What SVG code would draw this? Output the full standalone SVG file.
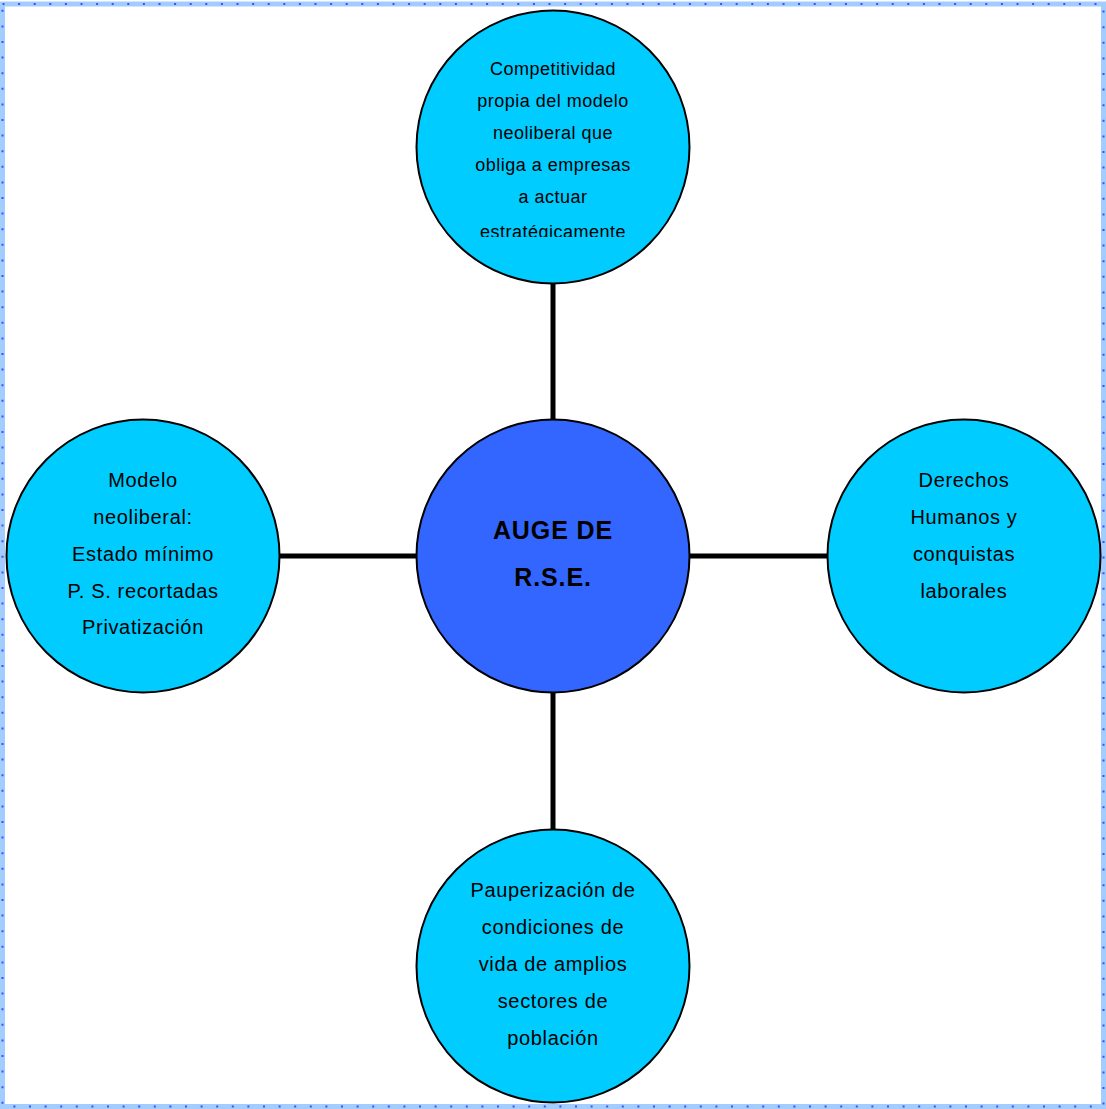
<svg xmlns="http://www.w3.org/2000/svg" width="1106" height="1109" viewBox="0 0 1106 1109">
<style>
.frame{fill:none;stroke:#a3ccff;stroke-width:5}
.dots{fill:none;stroke:#3355ff;stroke-width:2;stroke-dasharray:2 13.6}
.leaf{fill:#00ccff;stroke:#000;stroke-width:2}
.hub{fill:#3366ff;stroke:#000;stroke-width:2}
.t{font-family:"Liberation Sans",Arial,sans-serif;font-size:20px;letter-spacing:0.65px;fill:#000;text-anchor:middle}
.ts{font-family:"Liberation Sans",Arial,sans-serif;font-size:18px;letter-spacing:0.5px;fill:#000;text-anchor:middle}
.tb{font-family:"Liberation Sans",Arial,sans-serif;font-size:25px;letter-spacing:0.9px;font-weight:bold;fill:#000;text-anchor:middle}
.edge{stroke:#000;stroke-width:5}
</style>
<defs>
<clipPath id="topclip"><rect x="420" y="40" width="270" height="197"/></clipPath>
</defs>
<rect width="1106" height="1109" fill="#fff"/>
<rect class="frame" x="2.5" y="4" width="1101" height="1102.5"/>
<rect class="dots" x="2.5" y="4" width="1101" height="1102.5"/>
<g id="connectors">
<line class="edge" x1="553" y1="284" x2="553" y2="420"/>
<line class="edge" x1="553" y1="692" x2="553" y2="831"/>
<line class="edge" x1="280" y1="556" x2="418" y2="556"/>
<line class="edge" x1="689" y1="556" x2="829" y2="556"/>
</g>
<g id="hub">
<circle class="hub" cx="553" cy="556" r="136.5"/>
<text class="tb" x="553" y="539">AUGE DE</text>
<text class="tb" x="553" y="586">R.S.E.</text>
</g>
<g id="top">
<circle class="leaf" cx="553" cy="147" r="136.5"/>
<g clip-path="url(#topclip)">
<text class="ts" x="553" y="75">Competitividad</text>
<text class="ts" x="553" y="107">propia del modelo</text>
<text class="ts" x="553" y="139">neoliberal que</text>
<text class="ts" x="553" y="171">obliga a empresas</text>
<text class="ts" x="553" y="203">a actuar</text>
<text class="ts" x="553" y="238">estratégicamente</text>
</g>
</g>
<g id="left">
<circle class="leaf" cx="143" cy="556" r="136.5"/>
<text class="t" x="143" y="487">Modelo</text>
<text class="t" x="143" y="524">neoliberal:</text>
<text class="t" x="143" y="561">Estado mínimo</text>
<text class="t" x="143" y="598">P. S. recortadas</text>
<text class="t" x="143" y="634">Privatización</text>
</g>
<g id="right">
<circle class="leaf" cx="964" cy="556" r="136.5"/>
<text class="t" x="964" y="487">Derechos</text>
<text class="t" x="964" y="524">Humanos y</text>
<text class="t" x="964" y="561">conquistas</text>
<text class="t" x="964" y="598">laborales</text>
</g>
<g id="bottom">
<circle class="leaf" cx="553" cy="966" r="136.5"/>
<text class="t" x="553" y="897">Pauperización de</text>
<text class="t" x="553" y="934">condiciones de</text>
<text class="t" x="553" y="971">vida de amplios</text>
<text class="t" x="553" y="1008">sectores de</text>
<text class="t" x="553" y="1045">población</text>
</g>
</svg>
